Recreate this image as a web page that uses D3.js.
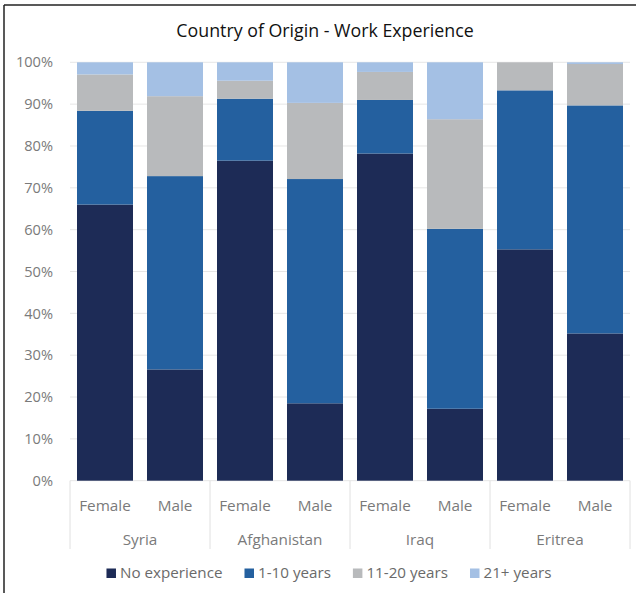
<!DOCTYPE html>
<html>
<head>
<meta charset="utf-8">
<script src="https://cdn.jsdelivr.net/npm/d3@7"></script>
<style>
  html, body { margin: 0; padding: 0; background: #fff; }
  svg { display: block; }
  text { font-family: "Open Sans", "DejaVu Sans", sans-serif; }
</style>
</head>
<body>
<svg id="chart" width="636" height="593"></svg>
<script>
// Work experience by country of origin and gender (share of respondents, %)
const countries = ["Syria", "Afghanistan", "Iraq", "Eritrea"];
const genders = ["Female", "Male"];
const seriesNames = ["No experience", "1-10 years", "11-20 years", "21+ years"];
const seriesColors = ["#1d2b56", "#24609f", "#b8babc", "#a4c0e4"];

// one entry per bar, in order Syria F, Syria M, Afghanistan F, ...
const noExperience = [66.0, 26.6, 76.5, 18.5, 78.2, 17.2, 55.3, 35.2];
const years1to10   = [22.4, 46.2, 14.8, 53.6, 12.8, 43.0, 38.0, 54.5];
const years11to20  = [ 8.7, 19.1,  4.3, 18.2,  6.7, 26.2,  6.7,  9.9];
const years21plus  = [ 2.9,  8.1,  4.4,  9.7,  2.3, 13.6,  0.0,  0.4];

const yTicks = [0, 10, 20, 30, 40, 50, 60, 70, 80, 90, 100];

const bars = [];
countries.forEach((c, ci) => genders.forEach((g, gi) => {
  const i = ci * genders.length + gi;
  bars.push({
    key: c + "|" + g, country: c, gender: g,
    "No experience": noExperience[i],
    "1-10 years": years1to10[i],
    "11-20 years": years11to20[i],
    "21+ years": years21plus[i]
  });
}));

const svg = d3.select("#chart");
const W = 636, H = 593;
const plot = { left: 70, right: 630, top: 62.3, bottom: 480.7 };
const labelColor = "#7a7a7a";

// frame
svg.append("rect").attr("x", 0).attr("y", 0).attr("width", W).attr("height", H).attr("fill", "#fff");
svg.append("line").attr("x1", 4).attr("x2", 4).attr("y1", 5).attr("y2", H).attr("stroke", "#222").attr("stroke-width", 1.5);
svg.append("line").attr("x1", 4).attr("x2", W).attr("y1", 5).attr("y2", 5).attr("stroke", "#222").attr("stroke-width", 1.5);

// title
svg.append("text")
  .attr("x", 325).attr("y", 37)
  .attr("text-anchor", "middle")
  .attr("font-size", 17.8)
  .attr("fill", "#111")
  .text("Country of Origin - Work Experience");

const x = d3.scaleBand()
  .domain(bars.map(d => d.key))
  .range([plot.left, plot.right])
  .paddingInner(0.2)
  .paddingOuter(0.1);

const y = d3.scaleLinear().domain([0, 100]).range([plot.bottom, plot.top]);

// gridlines
svg.append("g")
  .selectAll("line")
  .data(yTicks)
  .join("line")
  .attr("x1", plot.left).attr("x2", plot.right)
  .attr("y1", d => y(d)).attr("y2", d => y(d))
  .attr("stroke", "#e6e6e6").attr("stroke-width", 1);

// y axis
const yAxis = d3.axisLeft(y)
  .tickValues(yTicks)
  .tickFormat(d => d + "%")
  .tickSize(0)
  .tickPadding(0);
const gy = svg.append("g").attr("transform", "translate(53,0)").call(yAxis);
gy.select(".domain").remove();
gy.selectAll("text")
  .attr("font-family", "'Open Sans', sans-serif")
  .attr("font-size", 14.6)
  .attr("fill", labelColor);

// stacked bars
const stack = d3.stack().keys(seriesNames);
const layers = stack(bars);
svg.append("g")
  .selectAll("g")
  .data(layers)
  .join("g")
  .attr("fill", (d, i) => seriesColors[i])
  .selectAll("rect")
  .data(d => d)
  .join("rect")
  .attr("x", d => x(d.data.key))
  .attr("width", x.bandwidth())
  .attr("y", d => y(d[1]))
  .attr("height", d => Math.max(0, y(d[0]) - y(d[1])));

// category axis: gender labels and country groups
const step = x.step();
const sepY1 = plot.bottom, sepY2 = 549;
const gx = svg.append("g");
const bounds = countries.map((c, ci) => plot.left + ci * genders.length * step);
bounds.push(plot.right);
gx.selectAll("line")
  .data(bounds)
  .join("line")
  .attr("x1", d => d).attr("x2", d => d)
  .attr("y1", sepY1).attr("y2", sepY2)
  .attr("stroke", "#e0e0e0").attr("stroke-width", 1);

gx.selectAll("text.gender")
  .data(bars)
  .join("text")
  .attr("class", "gender")
  .attr("x", d => x(d.key) + x.bandwidth() / 2)
  .attr("y", 510.5)
  .attr("text-anchor", "middle")
  .attr("font-size", 15.3)
  .attr("fill", labelColor)
  .text(d => d.gender);

gx.selectAll("text.country")
  .data(countries)
  .join("text")
  .attr("class", "country")
  .attr("x", (d, i) => (bounds[i] + bounds[i + 1]) / 2)
  .attr("y", 544.5)
  .attr("text-anchor", "middle")
  .attr("font-size", 15.3)
  .attr("fill", labelColor)
  .text(d => d);

// legend, laid out from measured text widths and centred on the plot
const legend = svg.append("g");
const items = legend.selectAll("g")
  .data(seriesNames)
  .join("g");
items.append("rect")
  .attr("width", 9.5).attr("height", 9.5)
  .attr("y", -9.5)
  .attr("fill", (d, i) => seriesColors[i]);
items.append("text")
  .attr("x", 13.5)
  .attr("y", 0)
  .attr("font-size", 15.2)
  .attr("fill", "#6a6a6a")
  .text(d => d);
const gap = 22;
const widths = [];
items.each(function () { widths.push(this.getBBox().width); });
const total = d3.sum(widths) + gap * (widths.length - 1);
let cx = 329 - total / 2;
items.attr("transform", (d, i) => {
  const t = `translate(${cx},578)`;
  cx += widths[i] + gap;
  return t;
});
</script>
</body>
</html>
